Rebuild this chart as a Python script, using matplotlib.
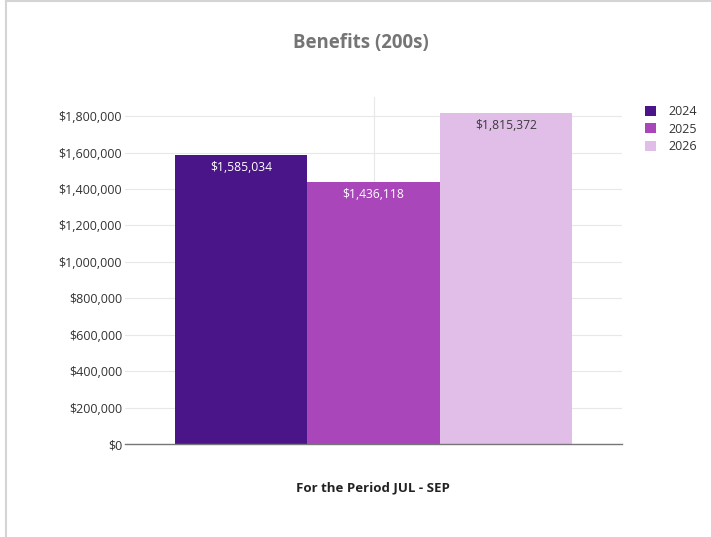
import matplotlib
matplotlib.use("Agg")
import matplotlib.pyplot as plt
from matplotlib.ticker import FuncFormatter
from matplotlib.lines import Line2D
from matplotlib.patches import Patch

plt.rcParams['font.family'] = ['Open Sans', 'DejaVu Sans']

title = "Benefits (200s)"
xlabel = "For the Period JUL - SEP"
series = ["2024", "2025", "2026"]
values = [1585034, 1436118, 1815372]
colors = ["#4a1589", "#a946b9", "#e0bee8"]
label_colors = ["white", "white", "#3a3a3a"]
yticks = [0, 200000, 400000, 600000, 800000, 1000000, 1200000, 1400000, 1600000, 1800000]

fig = plt.figure(figsize=(7.11, 5.37), dpi=100)
ax = fig.add_axes([125/711, 1-444/537, (622-125)/711, (444-97)/537])

n = len(series)
group = 0.8
w = group / n
for i, (s, v, c, lc) in enumerate(zip(series, values, colors, label_colors)):
    x = -group/2 + w*(i+0.5)
    ax.bar(x, v, width=w, color=c, zorder=3, label=s)
    ax.text(x, v - 33000, f"${v:,}", ha='center', va='top', color=lc, fontsize=8.7, zorder=4)

ax.set_xlim(-0.5, 0.5)
ax.set_ylim(0, 1905000)
ax.set_yticks(yticks)
ax.yaxis.set_major_formatter(FuncFormatter(lambda v, p: f"${int(v):,}"))
ax.set_xticks([0])
ax.set_xticklabels([""])
ax.tick_params(axis='x', length=0)
ax.tick_params(axis='y', length=0, labelsize=9, labelcolor='#333333', pad=2)
ax.grid(axis='y', color='#e8e8e8', lw=0.8, zorder=0)
ax.grid(axis='x', color='#e8e8e8', lw=0.8, zorder=0)
for sp in ['top', 'right', 'left']:
    ax.spines[sp].set_visible(False)
ax.spines['bottom'].set_color('#777777')
ax.spines['bottom'].set_linewidth(1.0)
ax.spines['bottom'].set_zorder(5)

fig.text(361/711, 1-43/537, title, ha='center', va='center', fontsize=13.4, fontweight='bold', color='#757575')
fig.text(373/711, 1-488/537, xlabel, ha='center', va='center', fontsize=9.5, fontweight='bold', color='#222222')

handles = [Patch(facecolor=c, edgecolor='none') for c in colors]
leg = fig.legend(handles, series, loc='upper left', bbox_to_anchor=(640/711, 1-100/537),
                 frameon=False, fontsize=9, handlelength=0.85, handleheight=0.85,
                 handletextpad=1.05, labelspacing=0.38, borderaxespad=0)
for t in leg.get_texts():
    t.set_color('#333333')

# outer border (left and top)
fig.add_artist(Line2D([6/711, 6/711], [0, 1], color='#d4d4d4', lw=1.5, transform=fig.transFigure))
fig.add_artist(Line2D([6/711, 1], [1-1/537, 1-1/537], color='#d4d4d4', lw=1.5, transform=fig.transFigure))

fig.savefig("out.png", dpi=100)
